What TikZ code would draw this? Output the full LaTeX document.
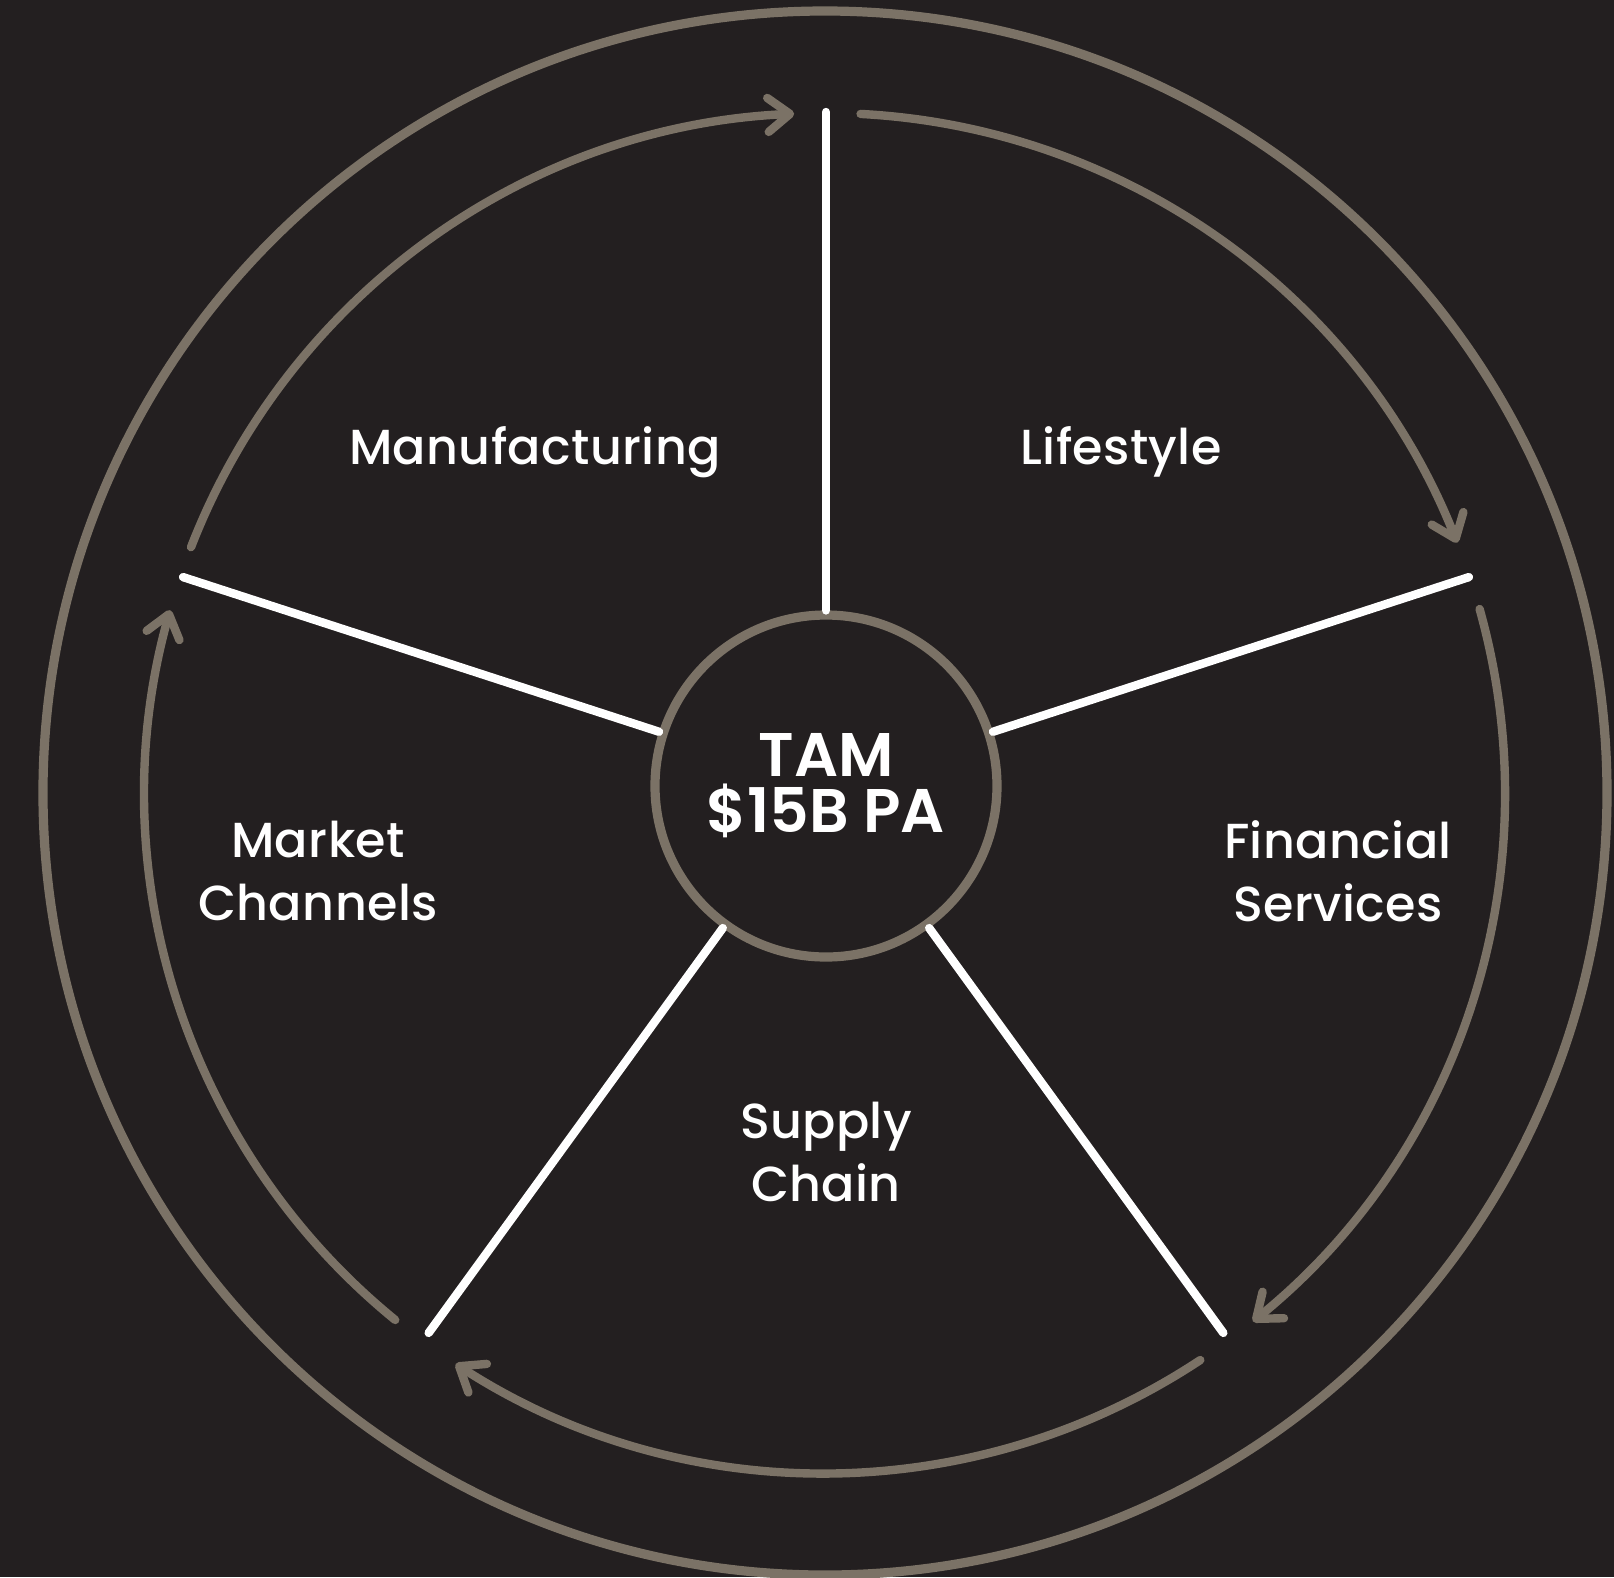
\documentclass[tikz,border=0pt]{standalone}
\usepackage{fontspec}
\usepackage{tikz}
\usetikzlibrary{arrows.meta}
\setmainfont{Poppins}[UprightFont={* Medium},BoldFont={* SemiBold}]
\definecolor{wheelbg}{HTML}{231F20}
\definecolor{rim}{HTML}{7B7266}
\tikzset{
  spoke/.style={white, line width=2.1pt, line cap=round},
  turn/.style={rim, line width=2.1pt, line cap=round,
    -{Straight Barb[length=5.5pt,width=8.5pt,round]}},
  sector/.style={white, align=center, inner sep=0pt,
    font=\fontsize{12.3}{15.75}\selectfont\addfontfeature{LetterSpace=0.8}},
}

\begin{document}
\begin{tikzpicture}[x=0.25pt, y=0.25pt]
      \fill[wheelbg] (-825,-784) rectangle (789,793);
      \useasboundingbox (-825,-784) rectangle (789,793);

      \draw[rim, line width=2.3pt] (0,0) circle[radius=782];

      \node[circle, draw=rim, line width=2.3pt, minimum size=85.5pt, inner sep=0pt,
        text=white, align=center, font=\fontsize{15.4}{14}\selectfont\bfseries]
        (hub) at (1,7) {TAM\\\$15B PA};

      % rim ends of the spokes
      \path (hub.center) ++(90:674) coordinate (s1);
      \path (hub.center) ++(18:676) coordinate (s2);
      \path (hub.center) ++(-54:676) coordinate (s3);
      \path (hub.center) ++(-126:676) coordinate (s4);
      \path (hub.center) ++(162:676) coordinate (s5);

      \draw[spoke] (hub.90) -- (s1);
      \draw[spoke] (hub.18) -- (s2);
      \draw[spoke] (hub.-54) -- (s3);
      \draw[spoke] (hub.-126) -- (s4);
      \draw[spoke] (hub.162) -- (s5);

      % clockwise arrows between the spokes
      \draw[turn] (158.8:680) arc[start angle=158.8, end angle=92.6, radius=680];
      \draw[turn] (87:680) arc[start angle=87, end angle=21.6, radius=680];
      \draw[turn] (15.7:680) arc[start angle=15.7, end angle=-51, radius=680];
      \draw[turn] (-56.5:680) arc[start angle=-56.5, end angle=-122.9, radius=680];
      \draw[turn] (-129.2:680) arc[start angle=-129.2, end angle=-195.6, radius=680];

      \node[sector, anchor=base] (manufacturing) at (-290,329) {Manufacturing};
      \node[sector, anchor=base] (lifestyle) at (296,329) {Lifestyle};
      \node[sector] (market) at (-507,-78) {Market\\Channels};
      \node[sector] (financial) at (513,-78) {Financial\\Services};
      \node[sector] (supply) at (1,-359) {Supply\\Chain};
\end{tikzpicture}
\end{document}
